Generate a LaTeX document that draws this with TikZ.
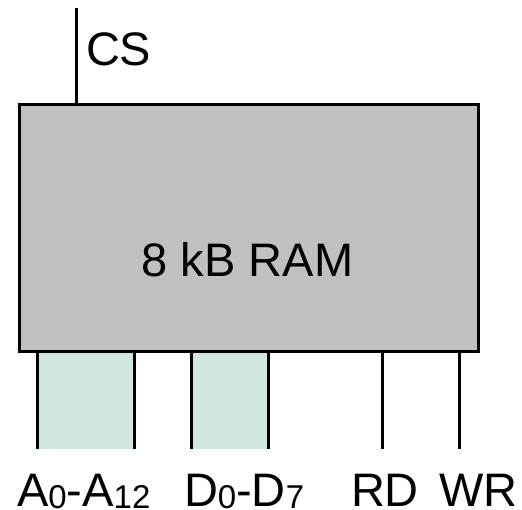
\documentclass[tikz,border=0pt]{standalone}
\usepackage{fontspec}
\setmainfont{Liberation Sans}
\definecolor{ramgray}{RGB}{192,192,192}
\definecolor{busteal}{RGB}{208,230,227}
\newcommand{\subidx}[1]{\raisebox{-2pt}{\fontsize{33}{33}\selectfont #1}}
\begin{document}
\begin{tikzpicture}[x=1pt,y=-1pt,
  wire/.style={line width=3pt},
  lbl/.style={inner sep=0pt, outer sep=0pt, font=\fontsize{47}{50}\selectfont},
  bus/.style={fill=busteal, inner sep=0pt, outer sep=0pt}]
\useasboundingbox (0,0) rectangle (522,510);
% bus fills
\node[bus, minimum width=96.5pt, minimum height=97pt] (abus) at (85.75,400.5) {};
\node[bus, minimum width=77pt, minimum height=97pt] (dbus) at (229.5,400.5) {};
\coordinate (rdend) at (382.5,449);
\coordinate (wrend) at (459,449);
\coordinate (cstop) at (76,8);
% RAM box
\node[draw, wire, fill=ramgray, minimum width=459pt, minimum height=247pt,
      inner sep=0pt, outer sep=0pt] (ram) at (248.5,228.5) {};
\node[lbl, anchor=base] (ramtxt) at (247.5,277) {8 kB RAM};
% wires
\draw[wire] (cstop) -- (cstop |- ram.north);
\draw[wire] (abus.north west) -- (abus.south west);
\draw[wire] (abus.north east) -- (abus.south east);
\draw[wire] (dbus.north west) -- (dbus.south west);
\draw[wire] (dbus.north east) -- (dbus.south east);
\draw[wire] (rdend |- ram.south) -- (rdend);
\draw[wire] (wrend |- ram.south) -- (wrend);
% labels
\node[lbl, anchor=base west] (cs) at (86,66) {CS};
\node[lbl, text depth=0pt, anchor=base west] (alab) at (17,506) {A\subidx{0}-A\subidx{12}};
\node[lbl, text depth=0pt, anchor=base west] (dlab) at (184,506) {D\subidx{0}-D\subidx{7}};
\node[lbl, text depth=0pt, anchor=base west] (rdlab) at (351,506) {RD};
\node[lbl, text depth=0pt, anchor=base west] (wrlab) at (439,506) {WR};
\end{tikzpicture}
\end{document}
